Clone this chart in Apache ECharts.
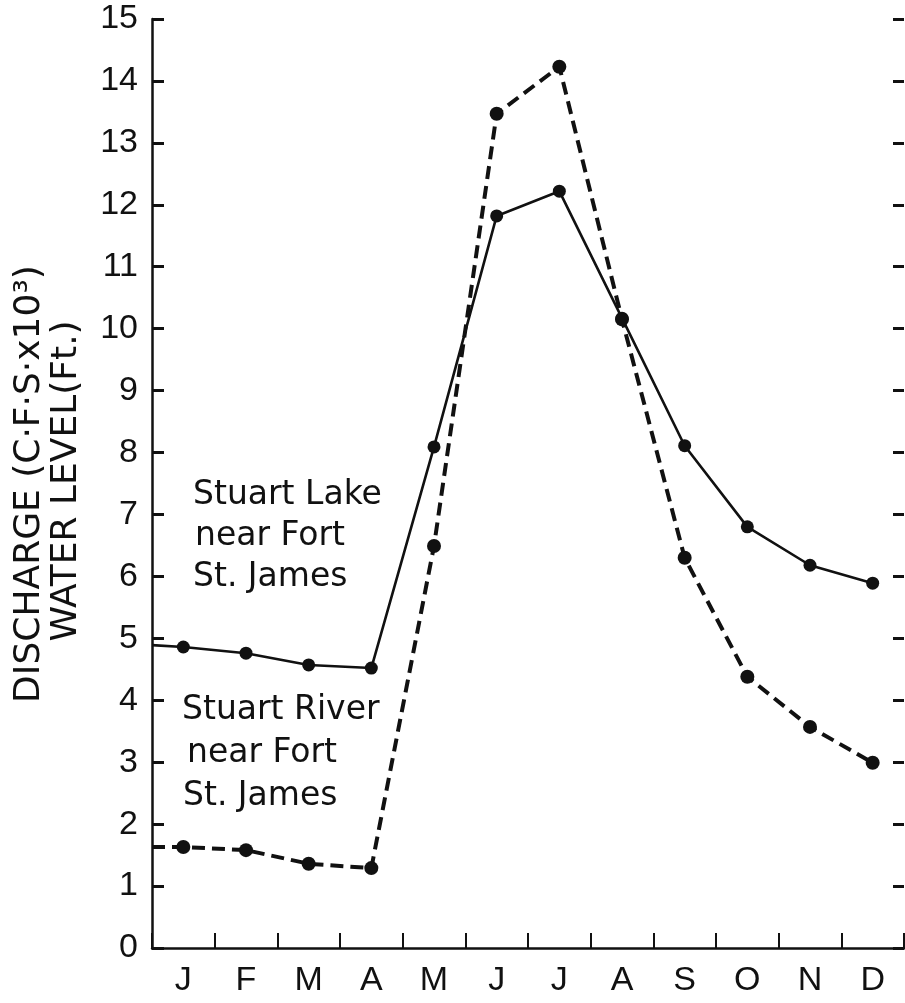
<!DOCTYPE html>
<html>
<head>
<meta charset="utf-8">
<title>Stuart Lake and Stuart River near Fort St. James</title>
<script src="https://cdn.jsdelivr.net/npm/echarts@6/dist/echarts.min.js"></script>
<style>
  html, body { margin: 0; padding: 0; background: #fff; }
  #chart { width: 905px; height: 1003px; }
</style>
</head>
<body>
<div id="chart"></div>
<script>
// Month labels along the bottom axis
const months = ['J', 'F', 'M', 'A', 'M', 'J', 'J', 'A', 'S', 'O', 'N', 'D'];

// Stuart Lake near Fort St. James (solid line), monthly values
const lakeStart = 4.89;
const lakeValues = [4.86, 4.76, 4.57, 4.52, 8.09, 11.82, 12.22, 10.17, 8.11, 6.80, 6.18, 5.89];

// Stuart River near Fort St. James (dashed line), monthly values
const riverStart = 1.63;
const riverValues = [1.63, 1.58, 1.36, 1.29, 6.49, 13.47, 14.23, 10.15, 6.30, 4.38, 3.57, 2.99];

// Vertical axis range
const yMin = 0, yMax = 15, yStep = 1;

const INK = '#111';
const TICK_FONT = '"Liberation Sans", Arial, sans-serif';
const TEXT_FONT = '"DejaVu Sans", sans-serif';

// Each series starts at the left axis, then one point in the middle of each month
function buildData(start, values) {
  const out = [{ value: [0, start], symbol: 'none' }];
  values.forEach((v, i) => out.push([i + 0.5, v]));
  return out;
}

const chart = echarts.init(document.getElementById('chart'), null, { renderer: 'canvas' });

const option = {
  backgroundColor: '#fff',
  animation: false,
  grid: { left: 152, right: 1, top: 19, bottom: 55, containLabel: false },
  xAxis: [
    {
      type: 'category',
      data: months,
      boundaryGap: true,
      axisLine: { show: true, lineStyle: { color: INK, width: 2.5 } },
      axisTick: { show: true, inside: true, length: 15, alignWithLabel: false, lineStyle: { color: INK, width: 2 } },
      axisLabel: { color: INK, fontFamily: TICK_FONT, fontSize: 34, margin: 16 },
      splitLine: { show: false }
    },
    {
      type: 'value',
      min: 0,
      max: months.length,
      show: false
    }
  ],
  yAxis: [
    {
      type: 'value',
      min: yMin,
      max: yMax,
      interval: yStep,
      axisLine: { show: true, lineStyle: { color: INK, width: 2.5 } },
      axisTick: { show: true, inside: true, length: 12, lineStyle: { color: INK, width: 3 } },
      axisLabel: { color: INK, fontFamily: TICK_FONT, fontSize: 34, margin: 14 },
      splitLine: { show: false }
    },
    {
      type: 'value',
      position: 'right',
      min: yMin,
      max: yMax,
      interval: yStep,
      axisLine: { show: false },
      axisTick: { show: true, inside: true, length: 11, lineStyle: { color: INK, width: 3 } },
      axisLabel: { show: false },
      splitLine: { show: false }
    }
  ],
  series: [
    {
      name: 'Stuart Lake near Fort St. James',
      type: 'line',
      xAxisIndex: 1,
      yAxisIndex: 0,
      data: buildData(lakeStart, lakeValues),
      symbol: 'circle',
      symbolSize: 13,
      itemStyle: { color: INK },
      lineStyle: { color: INK, width: 2.6, type: 'solid' },
      z: 3
    },
    {
      name: 'Stuart River near Fort St. James',
      type: 'line',
      xAxisIndex: 1,
      yAxisIndex: 0,
      data: buildData(riverStart, riverValues),
      symbol: 'circle',
      symbolSize: 14,
      itemStyle: { color: INK },
      lineStyle: { color: INK, width: 4, type: [13, 7] },
      z: 3
    }
  ],
  graphic: [
    // Vertical axis title (two rotated lines)
    {
      type: 'text', x: 30, y: 484, rotation: Math.PI / 2,
      style: { text: 'DISCHARGE (C·F·S·x10³)', font: '36px ' + TEXT_FONT, fill: INK, textAlign: 'center', textVerticalAlign: 'middle' }
    },
    {
      type: 'text', x: 67, y: 481, rotation: Math.PI / 2,
      style: { text: 'WATER LEVEL(Ft.)', font: '36px ' + TEXT_FONT, fill: INK, textAlign: 'center', textVerticalAlign: 'middle' }
    },
    // Series captions
    { type: 'text', x: 193, y: 495, style: { text: 'Stuart Lake', font: '33px ' + TEXT_FONT, fill: INK, textAlign: 'left', textVerticalAlign: 'middle' } },
    { type: 'text', x: 195, y: 536, style: { text: 'near Fort', font: '33px ' + TEXT_FONT, fill: INK, textAlign: 'left', textVerticalAlign: 'middle' } },
    { type: 'text', x: 193, y: 577, style: { text: 'St. James', font: '33px ' + TEXT_FONT, fill: INK, textAlign: 'left', textVerticalAlign: 'middle' } },
    { type: 'text', x: 182, y: 710, style: { text: 'Stuart River', font: '33px ' + TEXT_FONT, fill: INK, textAlign: 'left', textVerticalAlign: 'middle' } },
    { type: 'text', x: 187, y: 753, style: { text: 'near Fort', font: '33px ' + TEXT_FONT, fill: INK, textAlign: 'left', textVerticalAlign: 'middle' } },
    { type: 'text', x: 183, y: 796, style: { text: 'St. James', font: '33px ' + TEXT_FONT, fill: INK, textAlign: 'left', textVerticalAlign: 'middle' } }
  ]
};

chart.setOption(option);
</script>
</body>
</html>
